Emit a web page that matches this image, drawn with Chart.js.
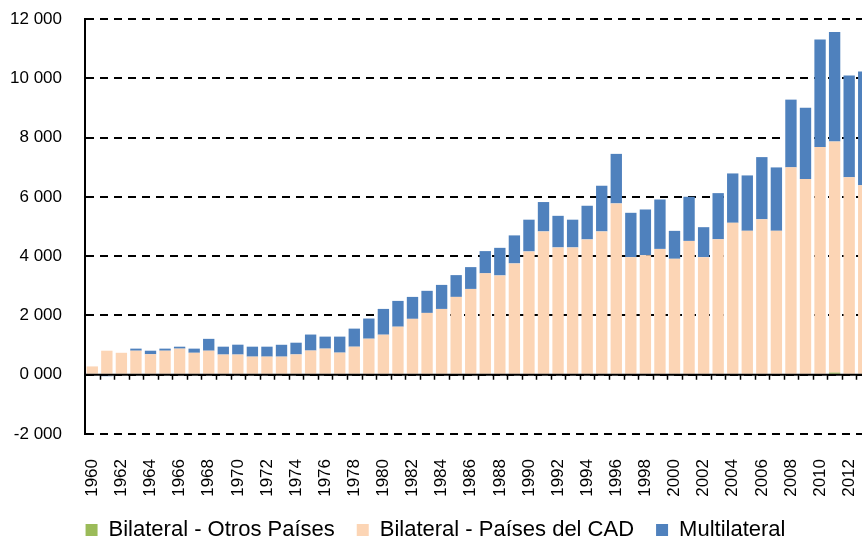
<!DOCTYPE html>
<html>
<head>
<meta charset="utf-8">
<script src="https://cdn.jsdelivr.net/npm/chart.js@4.4.1/dist/chart.umd.min.js"></script>
<style>
  html, body { margin: 0; padding: 0; background: #fff; overflow: hidden; }
  #wrap { width: 862px; height: 539px; overflow: hidden; position: relative; }
</style>
</head>
<body>
<div id="wrap"><canvas id="myChart" width="880" height="551"></canvas></div>
<script>
// años 1960-2013 (el gráfico original corta el último año)
var years = ['1960','1961','1962','1963','1964','1965','1966','1967','1968','1969',
  '1970','1971','1972','1973','1974','1975','1976','1977','1978','1979',
  '1980','1981','1982','1983','1984','1985','1986','1987','1988','1989',
  '1990','1991','1992','1993','1994','1995','1996','1997','1998','1999',
  '2000','2001','2002','2003','2004','2005','2006','2007','2008','2009',
  '2010','2011','2012','2013'];

var otrosPaises = [0,0,0,0,0,0,0,0,0,0,
  0,0,0,0,0,0,0,0,0,0,
  0,0,0,0,0,0,0,0,0,0,
  0,0,0,0,0,0,0,0,0,0,
  0,0,0,0,0,0,0,0,0,0,
  0,70,0,0];

var paisesCAD = [280,810,740,810,690,810,880,740,810,680,
  680,610,610,610,685,815,880,745,945,1215,
  1350,1620,1885,2085,2220,2625,2895,3420,3350,3755,
  4160,4835,4295,4295,4565,4835,5780,3965,4030,4245,
  3910,4515,3965,4570,5125,4855,5245,4855,6995,6600,
  7680,7800,6665,6395];

var multilateral = [0,-50,0,70,120,70,65,140,400,266,
  333,336,336,400,395,540,405,540,610,680,
  870,870,740,745,810,735,735,750,930,945,
  1070,990,1065,935,1135,1540,1670,1497,1544,1667,
  943,1488,1012,1556,1665,1868,2096,2138,2285,2410,
  3627,3694,3426,3831];

var yTickLabels = ['-2 000','0 000','2 000','4 000','6 000','8 000','10 000','12 000'];

var fontFamily = "'Liberation Sans', Arial, sans-serif";

// linea del cero y marcas entre categorias
var zeroLine = {
  id: 'zeroLine',
  afterDatasetsDraw: function(chart) {
    var ctx = chart.ctx;
    var x = chart.scales.x, y = chart.scales.y;
    var y0 = y.getPixelForValue(0);
    var step = x.getPixelForValue(1) - x.getPixelForValue(0);
    ctx.save();
    ctx.strokeStyle = '#000';
    ctx.lineWidth = 2;
    ctx.beginPath();
    ctx.moveTo(chart.chartArea.left, y0);
    ctx.lineTo(chart.chartArea.right, y0);
    ctx.stroke();
    ctx.lineWidth = 1.5;
    ctx.beginPath();
    for (var i = 0; i < years.length; i++) {
      var px = Math.round(x.getPixelForValue(i) + step / 2) + 0.5;
      ctx.moveTo(px, y0);
      ctx.lineTo(px, y0 + 5);
    }
    ctx.stroke();
    ctx.restore();
  }
};

var ctx = document.getElementById('myChart').getContext('2d');
var chart = new Chart(ctx, {
  type: 'bar',
  data: {
    labels: years,
    datasets: [{
      label: 'Bilateral - Otros Países',
      backgroundColor: '#9BBB59',
      data: otrosPaises
    }, {
      label: 'Bilateral - Países del CAD',
      backgroundColor: '#FCD5B5',
      data: paisesCAD
    }, {
      label: 'Multilateral',
      backgroundColor: '#4F81BD',
      data: multilateral
    }]
  },
  options: {
    responsive: false,
    animation: false,
    layout: { padding: { top: 19, right: 9, left: 0, bottom: 0 } },
    datasets: {
      bar: { categoryPercentage: 1, barPercentage: 0.78, borderWidth: 0 }
    },
    scales: {
      x: {
        stacked: true,
        afterFit: function(scale) {
          scale.height = 63;
          scale.paddingLeft = 0;
          scale.paddingRight = 0;
        },
        grid: { display: false, drawTicks: false },
        border: { display: false },
        ticks: {
          autoSkip: false,
          minRotation: 90,
          maxRotation: 90,
          padding: 25,
          color: '#000',
          font: { family: fontFamily, size: 17 },
          callback: function(v, i) { return i % 2 === 0 ? years[i] : ''; }
        }
      },
      y: {
        stacked: true,
        min: -2000,
        max: 12000,
        afterFit: function(scale) {
          scale.width = 85;
          scale.paddingTop = 0;
          scale.paddingBottom = 0;
        },
        grid: { color: '#000', lineWidth: 2, drawTicks: false },
        border: { display: true, color: '#000', width: 2, dash: [8, 6] },
        ticks: {
          stepSize: 2000,
          padding: 23,
          color: '#000',
          font: { family: fontFamily, size: 17 },
          callback: function(v, i) { return yTickLabels[i]; }
        }
      }
    },
    plugins: {
      tooltip: { enabled: false },
      legend: {
        position: 'bottom',
        labels: {
          color: '#000',
          boxWidth: 12,
          boxHeight: 12,
          padding: 22,
          font: { family: fontFamily, size: 22 }
        }
      }
    }
  },
  plugins: [zeroLine]
});
</script>
</body>
</html>
